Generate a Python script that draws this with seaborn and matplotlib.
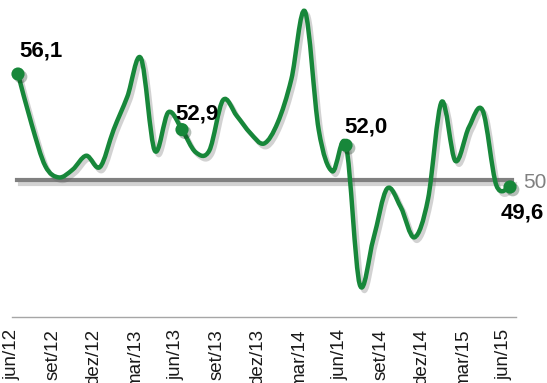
import numpy as np
import pandas as pd
import matplotlib
matplotlib.use("Agg")
import matplotlib.pyplot as plt
import matplotlib.patheffects as pe
from matplotlib.path import Path
from matplotlib.patches import PathPatch
import seaborn as sns

# --- Data (monthly index, jun/12 .. jun/15) ---
months = list(range(37))
values = [56.1, 53.2, 50.8, 50.15, 50.6, 51.4, 50.75, 52.9, 54.8, 57.0,
          51.7, 53.9, 52.9, 51.6, 51.7, 54.6, 53.7, 52.7, 52.1, 53.3,
          55.8, 59.7, 52.9, 50.5, 52.0, 44.0, 46.6, 49.5, 48.45, 46.7,
          48.9, 54.5, 51.1, 53.05, 54.0, 49.7, 49.6]
tick_labels = ["jun/12", "set/12", "dez/12", "mar/13", "jun/13", "set/13", "dez/13",
               "mar/14", "jun/14", "set/14", "dez/14", "mar/15", "jun/15"]
label_months = [0, 12, 24, 36]
label_texts = ["56,1", "52,9", "52,0", "49,6"]
reference_level = 50

GREEN = "#17873a"
GRAY = "#808080"

df = pd.DataFrame({"month": months, "value": values})
dots = df.iloc[label_months]

sns.set_theme(style="white")
plt.rcParams["font.family"] = ["Liberation Sans", "DejaVu Sans"]

fig = plt.figure(figsize=(5.47, 3.83), dpi=100)
ax2 = fig.add_axes([-6 / 547, 0, 1, 1])
ax = fig.add_axes([0, 0, 1, 1])
ax.set_facecolor("none")

xlim = (-1.317, 38.707)
ax.set_xlim(*xlim)
ax.set_ylim(38.32, 60.36)
ax2.set_xlim(*xlim)
ax2.set_ylim(0, 1)

shadow = [pe.SimpleLineShadow(offset=(2, -2.5), shadow_color="#606060", alpha=0.28), pe.Normal()]

# smoothed line (Bezier segments through the monthly points)
x = np.array(months, dtype=float)
y = np.array(values, dtype=float)
xp = np.concatenate([[x[0]], x, [x[-1]]])
yp = np.concatenate([[y[0]], y, [y[-1]]])
verts = [(x[0], y[0])]
codes = [Path.MOVETO]
for i in range(len(x) - 1):
    c1 = (x[i] + (xp[i + 2] - xp[i]) / 6, y[i] + (yp[i + 2] - yp[i]) / 6)
    c2 = (x[i + 1] - (xp[i + 3] - xp[i + 1]) / 6, y[i + 1] - (yp[i + 3] - yp[i + 1]) / 6)
    verts += [c1, c2, (x[i + 1], y[i + 1])]
    codes += [Path.CURVE4] * 3
curve = PathPatch(Path(verts, codes), fill=False, edgecolor=GREEN, linewidth=3.2,
                  capstyle="round", joinstyle="round", zorder=3)
curve.set_path_effects(shadow)
ax.add_patch(curve)

sns.scatterplot(data=dots, x="month", y="value", ax=ax, color=GREEN, s=90,
                edgecolor=GREEN, linewidth=0, zorder=4,
                path_effects=[pe.SimplePatchShadow(offset=(2, -2), alpha=0.3), pe.Normal()])

# line at 50 (bottom spine placed at the reference level)
for s in ["top", "right", "left"]:
    ax.spines[s].set_visible(False)
ax.spines["bottom"].set_position(("data", reference_level))
ax.spines["bottom"].set_color(GRAY)
ax.spines["bottom"].set_linewidth(3)
ax.spines["bottom"].set_bounds(-0.07, 36.15)
ax.spines["bottom"].set_path_effects(shadow)
ax.spines["bottom"].set_zorder(2)
ax.set_xticks(months)
ax.set_xticklabels([])
ax.set_yticks([])
ax.tick_params(axis="x", direction="inout", length=3, width=1, color="#a5a5a5")
ax.xaxis.set_zorder(2.2)
ax.set_xlabel("")
ax.set_ylabel("")

label_font = ["Liberation Sans Narrow", "Liberation Sans", "DejaVu Sans"]
offsets = [(1, 18), (-7, 10), (-2, 13), (-9, -32)]
for m, t, off in zip(label_months, label_texts, offsets):
    ax.annotate(t, (m, values[m]), xytext=off, textcoords="offset pixels",
                ha="left", va="baseline", fontsize=16, fontweight="bold",
                family=label_font, color="black", zorder=5)
ax.annotate(str(reference_level), (36, reference_level), xytext=(13, -8),
            textcoords="offset pixels", ha="left", va="baseline", fontsize=15,
            family=label_font, color=GRAY, zorder=5)

# bottom category axis
for s in ["top", "right", "left"]:
    ax2.spines[s].set_visible(False)
ax2.spines["bottom"].set_position(("axes", 66 / 383))
ax2.spines["bottom"].set_color("#a6a6a6")
ax2.spines["bottom"].set_linewidth(1)
ax2.spines["bottom"].set_bounds(0, 36.9)
ax2.set_xticks(range(0, 37, 3))
ax2.set_xticklabels(tick_labels)
ax2.set_yticks([])
ax2.tick_params(axis="x", direction="out", length=3.6, width=1, color="#a6a6a6",
                pad=5, labelrotation=90, labelsize=13.5, labelcolor="#1a1a1a")

fig.savefig("out.png", dpi=100)
